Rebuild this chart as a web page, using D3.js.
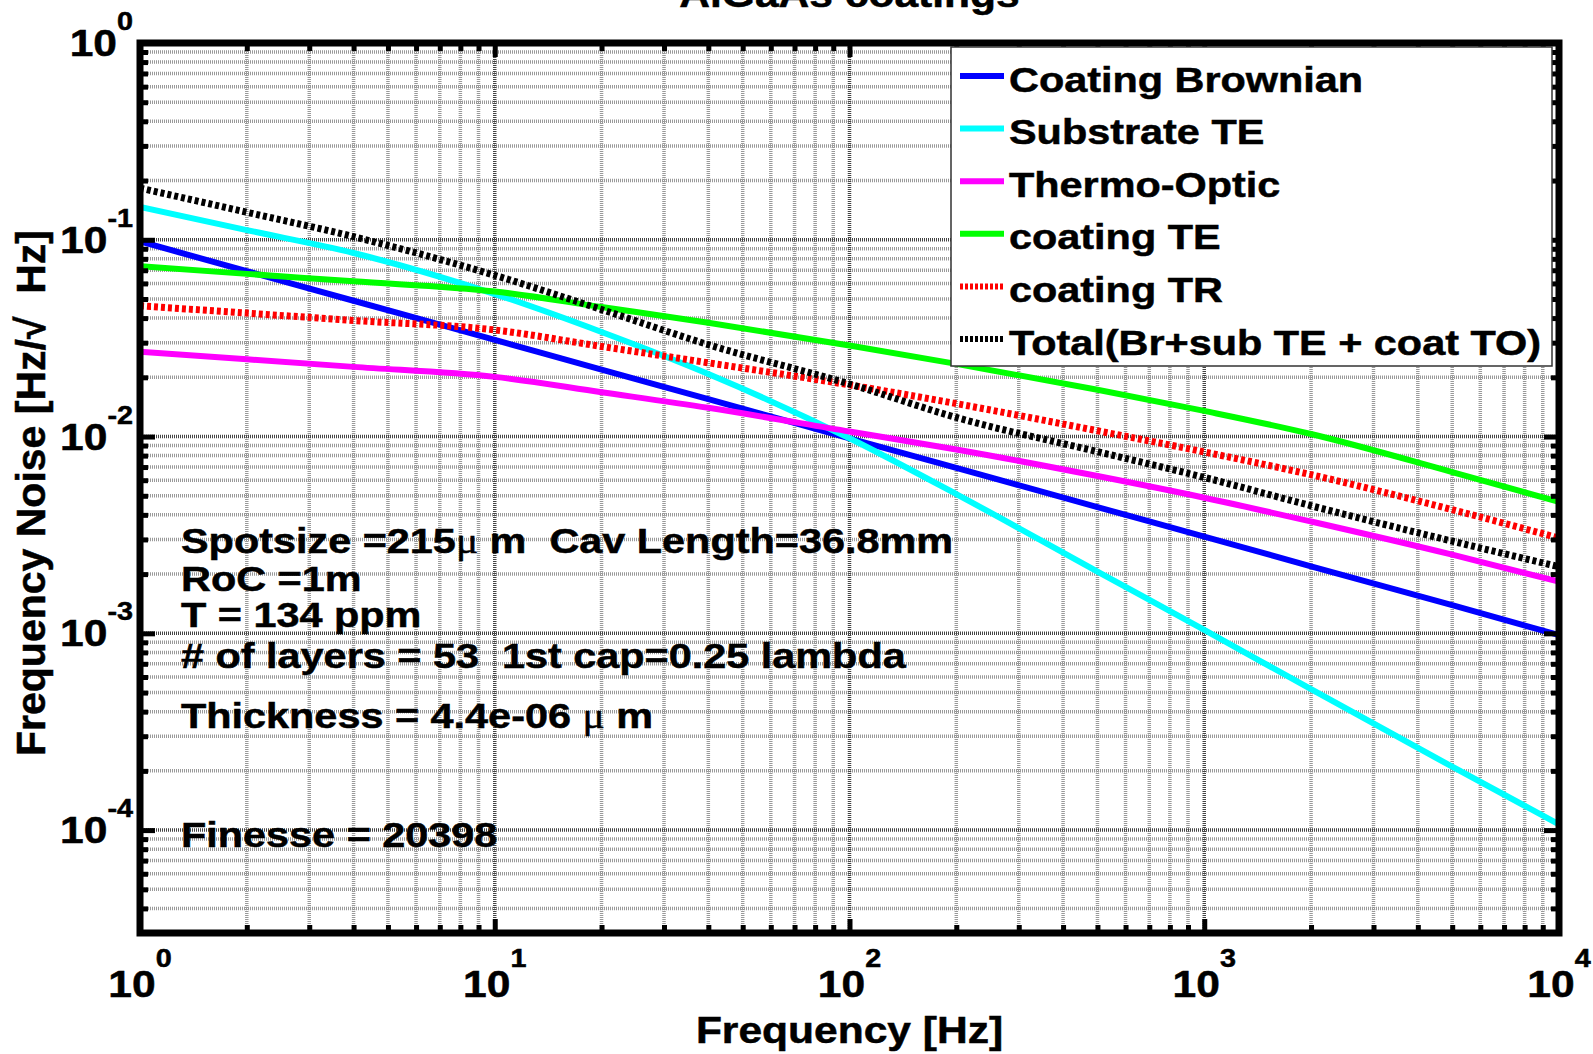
<!DOCTYPE html>
<html>
<head>
<meta charset="utf-8">
<script src="https://cdn.jsdelivr.net/npm/d3@7"></script>
<style>
  body { margin: 0; background: #fff; }
  text { font-family: "Liberation Sans", Arial, Helvetica, sans-serif; font-weight: bold; fill: #000; white-space: pre;
         stroke: #000; stroke-width: 0.5px; }
</style>
</head>
<body>
<svg id="chart" width="1593" height="1054"></svg>
<script>
// ---- data ---------------------------------------------------------------
const freq = [1, 2, 4, 10, 20, 40, 100, 200, 500, 1000, 2000, 5000, 10000];

const coatingBrownian = [0.098, 0.0693, 0.049, 0.031, 0.0219, 0.0155, 0.0098, 0.00693, 0.00438, 0.0031, 0.00219, 0.00139, 0.00098];
const substrateTE     = [0.147, 0.112, 0.0857, 0.053, 0.034, 0.0208, 0.0098, 0.0051, 0.00206, 0.00104, 0.00052, 0.00021, 0.000107];
const thermoOptic     = [0.027, 0.0247, 0.0226, 0.0201, 0.0168, 0.0140, 0.0106, 0.0086, 0.0063, 0.00489, 0.0037, 0.00251, 0.00183];
const coatingTE       = [0.0735, 0.0671, 0.0615, 0.0546, 0.0455, 0.0379, 0.029, 0.0234, 0.0173, 0.0135, 0.0103, 0.0066, 0.00466];
const coatingTR       = [0.0462, 0.0424, 0.0389, 0.0348, 0.0287, 0.0237, 0.0183, 0.0147, 0.0107, 0.00835, 0.0064, 0.00425, 0.00305];
const totalNoise      = [0.183, 0.138, 0.1037, 0.066, 0.0442, 0.0293, 0.0185, 0.0125, 0.00838, 0.0062, 0.00445, 0.00294, 0.00218];

const seriesNames = ["Coating Brownian", "Substrate TE", "Thermo-Optic", "coating TE", "coating TR", "Total(Br+sub TE + coat TO)"];
const seriesValues = [coatingBrownian, substrateTE, thermoOptic, coatingTE, coatingTR, totalNoise];

const xTickExponents = ["0", "1", "2", "3", "4"];
const yTickExponents = ["0", "-1", "-2", "-3", "-4"];

const titleText = "AlGaAs coatings";
const xLabelText = "Frequency [Hz]";
const yLabelText = "Frequency Noise [Hz/\u221A  Hz]";

// ---- styles -------------------------------------------------------------
const lineStyles = [
  { color: "#0000ff", dash: null, width: 6 },
  { color: "#00ffff", dash: null, width: 6 },
  { color: "#ff00ff", dash: null, width: 6 },
  { color: "#00ff00", dash: null, width: 6 },
  { color: "#ff0000", dash: "4,3", width: 7 },
  { color: "#000000", dash: "4,3", width: 7 }
];
const SX = 1.15;           // horizontal stretch of the lettering

// ---- layout -------------------------------------------------------------
const svg = d3.select("#chart");
const L = 140, R = 1559, T = 43, B = 933;
const x = d3.scaleLog().domain([1, 1e4]).range([L, R]);
const y = d3.scaleLog().domain([3e-5, 1]).range([B, T]);

svg.append("defs").append("clipPath").attr("id", "plotclip")
  .append("rect").attr("x", L).attr("y", T).attr("width", R - L).attr("height", B - T);

// grid values
const xMinor = [], xMajor = [];
for (let d = 0; d <= 3; d++) for (let m = 1; m <= 9; m++) {
  const v = m * Math.pow(10, d);
  if (m === 1) { if (d > 0) xMajor.push(v); } else xMinor.push(v);
}
const yMinor = [], yMajor = [];
for (let d = -5; d <= -1; d++) for (let m = 1; m <= 9; m++) {
  const v = m * Math.pow(10, d);
  if (v < 3e-5 - 1e-12 || v > 1) continue;
  if (m === 1) yMajor.push(v); else yMinor.push(v);
}

const grid = svg.append("g");
function gridLines(vals, vertical, color, w) {
  grid.selectAll(null).data(vals).enter().append("line")
    .attr("x1", d => vertical ? x(d) : L)
    .attr("x2", d => vertical ? x(d) : R)
    .attr("y1", d => vertical ? T : y(d))
    .attr("y2", d => vertical ? B : y(d))
    .attr("stroke", color).attr("stroke-width", w)
    .attr("stroke-dasharray", "1,1");
}
gridLines(xMinor, true, "#999", 3.5);
gridLines(yMinor, false, "#999", 3.5);
gridLines(xMajor, true, "#444", 3.5);
gridLines(yMajor, false, "#444", 3.5);

// ---- curves -------------------------------------------------------------
const line = d3.line().x(d => x(d[0])).y(d => y(d[1])).curve(d3.curveMonotoneX);
const curves = svg.append("g").attr("clip-path", "url(#plotclip)");
seriesValues.forEach((vals, i) => {
  const pts = freq.map((f, j) => [f, vals[j]]);
  const p = curves.append("path").datum(pts)
    .attr("d", line)
    .attr("fill", "none")
    .attr("stroke", lineStyles[i].color)
    .attr("stroke-width", lineStyles[i].width)
    .attr("stroke-linejoin", "round");
  if (lineStyles[i].dash) p.attr("stroke-dasharray", lineStyles[i].dash);
});

// ---- axes box and ticks -------------------------------------------------
const axes = svg.append("g");
function tickAxis(axisFn, scale, vals, len, transform) {
  axes.append("g").attr("transform", transform)
    .call(axisFn(scale).tickValues(vals).tickSize(-len).tickFormat(""))
    .call(g => g.select(".domain").remove())
    .call(g => g.selectAll(".tick line").attr("stroke", "#000").attr("stroke-width", 5));
}
const allXMajor = [1, 10, 100, 1000, 10000];
tickAxis(d3.axisBottom, x, xMinor, 8, `translate(0,${B})`);
tickAxis(d3.axisBottom, x, allXMajor, 14, `translate(0,${B})`);
tickAxis(d3.axisTop, x, xMinor, 8, `translate(0,${T})`);
tickAxis(d3.axisTop, x, allXMajor, 14, `translate(0,${T})`);
tickAxis(d3.axisLeft, y, yMinor, 8, `translate(${L},0)`);
tickAxis(d3.axisLeft, y, yMajor, 15, `translate(${L},0)`);
tickAxis(d3.axisRight, y, yMinor, 8, `translate(${R},0)`);
tickAxis(d3.axisRight, y, yMajor, 15, `translate(${R},0)`);

axes.append("rect").attr("x", L).attr("y", T).attr("width", R - L).attr("height", B - T)
  .attr("fill", "none").attr("stroke", "#000").attr("stroke-width", 7);

// ---- tick labels --------------------------------------------------------
function powLabel(px, py, exp, anchor, dy) {
  const t = svg.append("text")
    .attr("transform", `translate(${px},${py}) scale(${SX},1)`)
    .attr("text-anchor", anchor);
  t.append("tspan").attr("font-size", 37).text("10");
  t.append("tspan").attr("font-size", 25).attr("dy", dy).text(exp);
}
allXMajor.forEach((v, i) => powLabel(x(v), 997, xTickExponents[i], "middle", -30));
[1, 1e-1, 1e-2, 1e-3, 1e-4].forEach((v, i) => powLabel(133, y(v) + 13, yTickExponents[i], "end", -26));

// ---- axis labels and title ----------------------------------------------
const cx = (L + R) / 2;
svg.append("text").attr("transform", `translate(${cx},1043) scale(${SX},1)`)
  .attr("text-anchor", "middle").attr("font-size", 37).text(xLabelText);
svg.append("text").attr("transform", `translate(${cx},7) scale(${SX},1)`)
  .attr("text-anchor", "middle").attr("font-size", 37).text(titleText);
svg.append("text").attr("transform", `translate(45,493) rotate(-90)`)
  .attr("text-anchor", "middle").attr("font-size", 41).text(yLabelText);

// ---- annotations ---------------------------------------------------------
const notes = [
  { y: 553, parts: ["Spotsize =215", "\u03BC", " m  Cav Length=36.8mm"] },
  { y: 591, parts: ["RoC =1m"] },
  { y: 627, parts: ["T = 134 ppm"] },
  { y: 668, parts: ["# of layers = 53  1st cap=0.25 lambda"] },
  { y: 728, parts: ["Thickness = 4.4e-06 ", "\u03BC", " m"] },
  { y: 847, parts: ["Finesse = 20398"] }
];
notes.forEach(n => {
  const t = svg.append("text").attr("transform", `translate(181,${n.y}) scale(${SX},1)`).attr("font-size", 36);
  n.parts.forEach(p => {
    const s = t.append("tspan").text(p);
    if (p === "\u03BC") s.attr("font-family", "'Liberation Serif', 'DejaVu Serif', serif").attr("font-weight", "normal");
  });
});

// ---- legend --------------------------------------------------------------
const lg = svg.append("g");
lg.append("rect").attr("x", 951).attr("y", 47).attr("width", 601).attr("height", 319)
  .attr("fill", "#fff").attr("stroke", "#333").attr("stroke-width", 1.5);
seriesNames.forEach((name, i) => {
  const ry = 76 + i * 52.6;
  const l = lg.append("line").attr("x1", 960).attr("x2", 1004).attr("y1", ry).attr("y2", ry)
    .attr("stroke", lineStyles[i].color).attr("stroke-width", 6);
  if (lineStyles[i].dash) l.attr("stroke-dasharray", "3,2");
  lg.append("text").attr("transform", `translate(1009,${ry + 15.5}) scale(${SX},1)`)
    .attr("font-size", 36).text(name);
});
</script>
</body>
</html>
